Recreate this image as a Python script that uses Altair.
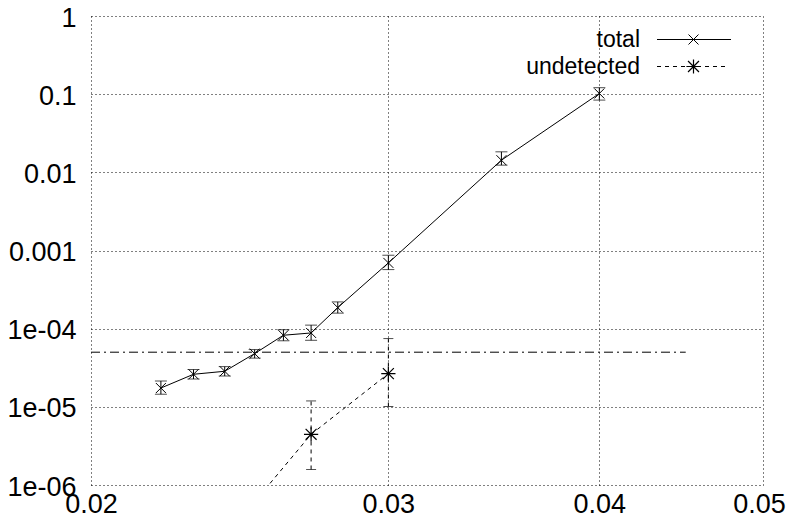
import altair as alt
import pandas as pd

# ---- data ----
x_total = [0.022, 0.023, 0.024, 0.025, 0.026, 0.027, 0.028, 0.03, 0.035, 0.04]
y_total = [1.74e-5, 2.61e-5, 2.85e-5, 4.8e-5, 8.24e-5, 8.81e-5, 1.86e-4, 6.94e-4, 0.0143, 0.102]
lo_total = [1.45e-5, 2.27e-5, 2.48e-5, 4.2e-5, 7.0e-5, 7.1e-5, 1.58e-4, 5.7e-4, 0.01236, 0.084]
hi_total = [2.14e-5, 3.0e-5, 3.27e-5, 5.4e-5, 9.7e-5, 1.11e-4, 2.2e-4, 8.7e-4, 0.0183, 0.121]

x_und = [0.025, 0.027, 0.03]
y_und = [6.1e-7, 4.45e-6, 2.66e-5]
lo_und = [3.0e-7, 1.58e-6, 1.01e-5]
hi_und = [9.0e-7, 1.19e-5, 7.47e-5]

thr_x = [0.02, 0.045]
thr_y = [5e-5, 5e-5]

x_ticks = [0.02, 0.03, 0.04, 0.05]
y_ticks = [1e-6, 1e-5, 1e-4, 1e-3, 1e-2, 1e-1, 1]

legend_labels = ["total", "undetected"]

FONT = "Liberation Sans"
FS = 27
LFS = 23

total = pd.DataFrame({"x": x_total, "y": y_total, "lo": lo_total, "hi": hi_total})
und = pd.DataFrame({"x": x_und, "y": y_und, "lo": lo_und, "hi": hi_und})
thr = pd.DataFrame({"x": thr_x, "y": thr_y})

xscale = alt.Scale(type="log", domain=[0.02, 0.05], nice=False)
yscale = alt.Scale(type="log", domain=[1e-6, 1], nice=False)

xaxis = alt.Axis(values=x_ticks, format=".2f", grid=True, gridDash=[1, 3], gridColor="black",
                 gridOpacity=1, domain=False, ticks=False, labelFont=FONT, labelFontSize=FS,
                 labelColor="black", labelPadding=6, labelOverlap=False, labelFlush=False,
                 labelBound=False, title=None,
                 labelOffset={"condition": {"test": "datum.value > 0.045", "value": -4}, "value": 0})
yaxis = alt.Axis(values=y_ticks, grid=True, gridDash=[1, 3], gridColor="black", gridOpacity=1,
                 domain=False, ticks=False, labelFont=FONT, labelFontSize=FS, labelColor="black",
                 labelPadding=15, labelOverlap=False, labelFlush=False, labelBound=False, title=None,
                 labelOffset=2,
                 labelExpr="datum.value >= 0.0009 ? format(datum.value, '~g') : '1e-0' + round(-log(datum.value)/LN10)")

X = alt.X("x:Q", scale=xscale, axis=xaxis)
Y = alt.Y("y:Q", scale=yscale, axis=yaxis)
Xn = alt.X("x:Q", scale=xscale)

cross = "M-1,-1L1,1M-1,1L1,-1"
star = "M-1,-1L1,1M-1,1L1,-1M0,-1.3L0,1.3M-1.3,0L1.3,0"

# threshold line
thr_line = alt.Chart(thr).mark_line(color="black", strokeWidth=1, strokeDash=[9, 4, 2, 4], clip=True).encode(x=X, y=Y)

# total series
t_line = alt.Chart(total).mark_line(color="black", strokeWidth=1, clip=True).encode(x=Xn, y="y:Q")
t_pts = alt.Chart(total).mark_point(shape=cross, size=100, color="black", strokeWidth=1, filled=False, opacity=1, clip=True).encode(x=Xn, y="y:Q")
t_err = alt.Chart(total).mark_rule(color="black", strokeWidth=1, clip=True).encode(x=Xn, y="lo:Q", y2="hi:Q")
t_cap_lo = alt.Chart(total).mark_tick(color="black", orient="horizontal", size=12, thickness=1, clip=True).encode(x=Xn, y="lo:Q")
t_cap_hi = alt.Chart(total).mark_tick(color="black", orient="horizontal", size=12, thickness=1, clip=True).encode(x=Xn, y="hi:Q")

# undetected series
u_line = alt.Chart(und).mark_line(color="black", strokeWidth=1, strokeDash=[4, 4], clip=True).encode(x=Xn, y="y:Q")
u_pts = alt.Chart(und).mark_point(shape=star, size=120, color="black", strokeWidth=1.2, filled=False, opacity=1, clip=True).encode(x=Xn, y="y:Q")
u_err = alt.Chart(und).mark_rule(color="black", strokeWidth=1, strokeDash=[4, 4], clip=True).encode(x=Xn, y="lo:Q", y2="hi:Q")
u_cap_lo = alt.Chart(und).mark_tick(color="black", orient="horizontal", size=10, thickness=1, clip=True).encode(x=Xn, y="lo:Q")
u_cap_hi = alt.Chart(und).mark_tick(color="black", orient="horizontal", size=10, thickness=1, clip=True).encode(x=Xn, y="hi:Q")

# key (top right, gnuplot style)
one = pd.DataFrame({"k": [0]})
k_t1 = alt.Chart(one).mark_text(text=legend_labels[0], align="right", baseline="middle", font=FONT, fontSize=LFS, color="black").encode(x=alt.value(549), y=alt.value(24))
k_t2 = alt.Chart(one).mark_text(text=legend_labels[1], align="right", baseline="middle", font=FONT, fontSize=LFS, color="black").encode(x=alt.value(549), y=alt.value(51))
k_l1 = alt.Chart(one).mark_rule(color="black", strokeWidth=1).encode(x=alt.value(566), x2=alt.value(640), y=alt.value(23.5))
k_l2 = alt.Chart(one).mark_rule(color="black", strokeWidth=1, strokeDash=[4, 4]).encode(x=alt.value(566), x2=alt.value(637), y=alt.value(50.5))
k_p1 = alt.Chart(one).mark_point(shape=cross, size=100, color="black", strokeWidth=1, filled=False, opacity=1).encode(x=alt.value(602.5), y=alt.value(23.5))
k_p2 = alt.Chart(one).mark_point(shape=star, size=120, color="black", strokeWidth=1.2, filled=False, opacity=1).encode(x=alt.value(602.5), y=alt.value(50.5))

chart = alt.layer(
    thr_line, t_err, t_cap_lo, t_cap_hi, t_line, t_pts,
    u_err, u_cap_lo, u_cap_hi, u_line, u_pts,
    k_t1, k_t2, k_l1, k_l2, k_p1, k_p2,
).properties(
    width=672, height=469,
    autosize=alt.AutoSizeParams(type="none"),
    padding={"left": 83, "top": 8, "right": 23, "bottom": 33},
    background="white",
).configure_view(strokeWidth=0)

chart.save("out.html", embed_options={"renderer": "svg", "actions": False})
